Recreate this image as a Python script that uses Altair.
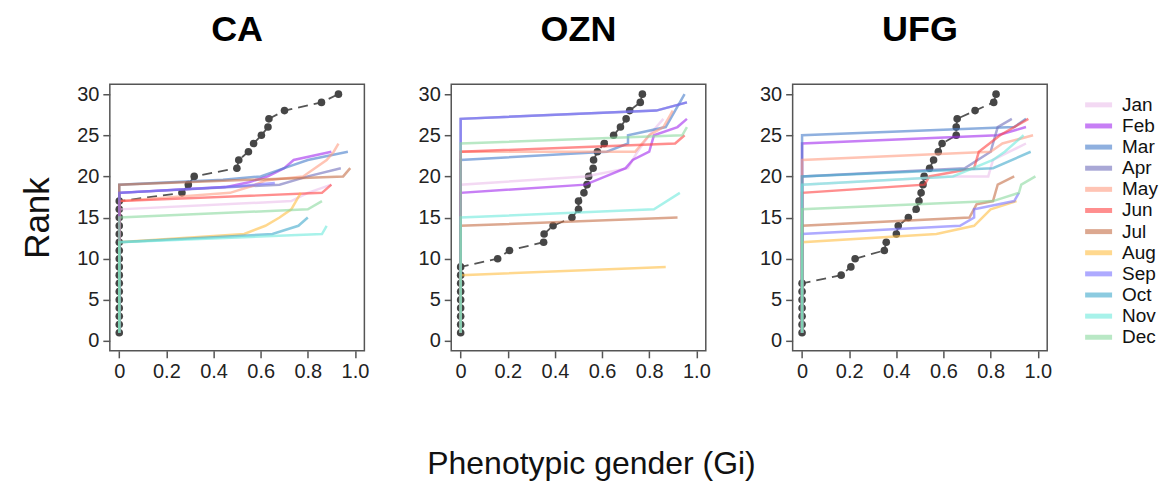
import altair as alt
import pandas as pd

MONTHS = ["Jan", "Feb", "Mar", "Apr", "May", "Jun", "Jul", "Aug", "Sep", "Oct", "Nov", "Dec"]
COLORS = ["#ebc0eb", "#a22aee", "#447bca", "#706ebb", "#ff9d82", "#ff4343",
          "#c56e46", "#ffbe43", "#7871ff", "#3fa8cb", "#6ee9dc", "#8ad99e"]
SITES = ["CA", "OZN", "UFG"]
X_TICKS = [0, 0.2, 0.4, 0.6, 0.8, 1.0]
Y_TICKS = [0, 5, 10, 15, 20, 25, 30]

RANKS = [1, 2, 3, 4, 5, 6, 7, 8, 9, 10, 11, 12, 13, 14, 15,
         16, 17, 18, 19, 20, 21, 22, 23, 24, 25, 26, 27, 28, 29, 30]

CA_DOT_GI = [0, 0, 0, 0, 0, 0, 0, 0, 0, 0, 0, 0, 0, 0, 0, 0, 0,
             0.266, 0.293, 0.318, 0.499, 0.507, 0.548, 0.570, 0.603, 0.631, 0.635, 0.701, 0.858, 0.930]
OZN_DOT_GI = [0, 0, 0, 0, 0, 0, 0, 0, 0,
              0.157, 0.207, 0.352, 0.354, 0.392, 0.472, 0.500, 0.500, 0.523, 0.536, 0.543,
              0.562, 0.564, 0.580, 0.609, 0.649, 0.678, 0.702, 0.717, 0.762, 0.771]
UFG_DOT_GI = [0, 0, 0, 0, 0, 0, 0,
              0.166, 0.207, 0.225, 0.349, 0.357, 0.400, 0.408, 0.451, 0.484, 0.496, 0.505,
              0.513, 0.518, 0.541, 0.558, 0.578, 0.594, 0.654, 0.654, 0.658, 0.734, 0.813, 0.823]

# month curves: (Gi values, rank values)
CA_LINES = {
    "Jan": ([0, 0, 0.73, 0.80, 0.90], [1, 16, 17, 18, 19]),
    "Feb": ([0, 0, 0.45, 0.55, 0.63, 0.70, 0.74, 0.90], [1, 18, 18.7, 19.3, 20, 21, 22, 23]),
    "Mar": ([0, 0, 0.44, 0.60, 0.70, 0.80, 0.97], [1, 19, 19.6, 20, 21, 22, 23]),
    "Apr": ([0, 0, 0.68, 0.80, 0.94], [1, 18, 19, 20, 21]),
    "May": ([0, 0, 0.47, 0.56, 0.62, 0.78, 0.83, 0.88, 0.91, 0.93],
            [1, 17, 18, 18.8, 19.5, 20, 21, 22, 23, 24]),
    "Jun": ([0, 0, 0.86, 0.90], [1, 17, 18, 19]),
    "Jul": ([0, 0, 0.95, 0.98], [1, 19, 20, 21]),
    "Aug": ([0, 0, 0.53, 0.62, 0.68, 0.73, 0.77], [1, 12, 13, 14, 15, 16, 18]),
    "Sep": ([0, 0, 0.50, 0.66], [1, 18, 18.8, 19.2]),
    "Oct": ([0, 0, 0.65, 0.76, 0.80], [1, 12, 13, 14, 15]),
    "Nov": ([0, 0, 0.86, 0.88], [1, 12, 13, 14]),
    "Dec": ([0, 0, 0.80, 0.86], [1, 15, 16, 17]),
}
OZN_LINES = {
    "Jan": ([0, 0, 0.53, 0.71, 0.75, 0.80, 0.86], [1, 19, 20, 21, 23, 25, 27]),
    "Feb": ([0, 0, 0.53, 0.70, 0.73, 0.80, 0.82, 0.92, 0.96], [1, 18, 19, 21, 22, 23, 25, 26, 27]),
    "Mar": ([0, 0, 0.62, 0.71, 0.71, 0.87, 0.91, 0.95], [1, 22, 23, 24, 25, 26, 28, 30]),
    "Apr": ([0, 0, 0.83, 0.96], [1, 27, 28, 29]),
    "May": ([0, 0, 0.74, 0.80, 0.86, 0.90], [1, 23, 23, 25, 26, 28]),
    "Jun": ([0, 0, 0.91, 0.95], [1, 23, 24, 25]),
    "Jul": ([0, 0, 0.92], [1, 14, 15]),
    "Aug": ([0, 0, 0.87], [1, 8, 9]),
    "Sep": ([0, 0, 0.83, 0.96], [1, 27, 28, 29]),
    "Nov": ([0, 0, 0.82, 0.93], [1, 15, 16, 18]),
    "Dec": ([0, 0, 0.94, 0.96], [1, 24, 25, 26]),
}
UFG_LINES = {
    "Jan": ([0, 0, 0.64, 0.79, 0.81, 0.88, 0.95], [1, 19, 20, 20, 22, 23, 24]),
    "Feb": ([0, 0, 0.83, 0.95], [1, 24, 25, 26]),
    "Mar": ([0, 0, 0.90, 0.95], [1, 25, 26, 27]),
    "Apr": ([0, 0, 0.69, 0.80, 0.83, 0.89], [1, 20, 21, 23, 26, 27]),
    "May": ([0, 0, 0.80, 0.85, 0.98], [1, 22, 23, 24, 25]),
    "Jun": ([0, 0, 0.52, 0.54, 0.73, 0.75, 0.84, 0.96], [1, 18, 19, 20, 21, 23, 25, 27]),
    "Jul": ([0, 0, 0.71, 0.74, 0.81, 0.83, 0.90], [1, 14, 15, 16.6, 17, 19, 20]),
    "Aug": ([0, 0, 0.57, 0.73, 0.80, 0.91], [1, 12, 13, 14, 16, 17]),
    "Sep": ([0, 0, 0.67, 0.73, 0.73, 0.90, 0.92], [1, 13, 14, 15, 16, 17, 18]),
    "Oct": ([0, 0, 0.81, 0.97], [1, 20, 21, 23]),
    "Nov": ([0, 0, 0.64, 0.81, 0.86, 0.94], [1, 19, 20, 22, 23, 25]),
    "Dec": ([0, 0, 0.81, 0.92, 0.93, 0.99], [1, 16, 17, 18, 19, 20]),
}

FONT = "Liberation Sans"
COLOR_SCALE = alt.Scale(domain=MONTHS, range=COLORS)
PANEL_W, PANEL_H = 255, 267


def line_frame(lines):
    rows = []
    for m, (gis, rks) in lines.items():
        for i, (g, r) in enumerate(zip(gis, rks)):
            rows.append({"month": m, "gi": g, "rank": r, "i": i})
    return pd.DataFrame(rows)


def legend_layers():
    leg_df = pd.DataFrame({"month": MONTHS})
    leg_y = alt.Y("month:N", scale=alt.Scale(domain=MONTHS, type="point", range=[10, 264]),
                  axis=None)
    rules = alt.Chart(leg_df).mark_rule(strokeWidth=5, opacity=0.6).encode(
        x=alt.value(PANEL_W + 38), x2=alt.value(PANEL_W + 65), y=leg_y,
        color=alt.Color("month:N", scale=COLOR_SCALE, legend=None))
    text = alt.Chart(leg_df).mark_text(align="left", baseline="middle", font=FONT,
                                       fontSize=19, color="#111").encode(
        x=alt.value(PANEL_W + 75), y=leg_y, text="month:N")
    return alt.layer(rules, text)


def panel(site, lines, dot_gi, first, middle, with_legend):
    ldf = line_frame(lines)
    ddf = pd.DataFrame({"gi": dot_gi, "rank": RANKS})
    if middle:
        x_axis = alt.Axis(values=X_TICKS,
                          labelExpr="datum.value == 0 ? '0' : format(datum.value, '.1f')",
                          titleFontSize=32, titlePadding=67, titleX=140)
    else:
        x_axis = alt.Axis(values=X_TICKS,
                          labelExpr="datum.value == 0 ? '0' : format(datum.value, '.1f')")
    x = alt.X("gi:Q",
              scale=alt.Scale(domain=[-0.04, 1.04], nice=False, zero=False),
              axis=x_axis,
              title="Phenotypic gender (Gi)" if middle else None)
    y = alt.Y("rank:Q",
              scale=alt.Scale(domain=[-1.2, 31.2], nice=False, zero=False),
              axis=alt.Axis(values=Y_TICKS, titleFontSize=35, titlePadding=21),
              title="Rank" if first else None)
    dline = alt.Chart(ddf).mark_line(color="#555", strokeDash=[10, 6], strokeWidth=1.8).encode(
        x=x, y=y, order="rank:Q")
    dots = alt.Chart(ddf).mark_circle(color="#464646", size=58, opacity=1).encode(x=x, y=y)
    mlines = alt.Chart(ldf).mark_line(strokeWidth=2.5, opacity=0.6).encode(
        x=x, y=y,
        color=alt.Color("month:N", scale=COLOR_SCALE, legend=None),
        order="i:Q")
    main = alt.layer(dline, dots, mlines)
    if with_legend:
        main = alt.layer(main, legend_layers()).resolve_scale(y="independent")
    return main.properties(
        width=PANEL_W, height=PANEL_H,
        view=alt.ViewBackground(stroke="#555", strokeWidth=1.5),
        title=alt.TitleParams(site, fontSize=36, fontWeight="bold", font=FONT, offset=35))


chart = alt.hconcat(
    panel(SITES[0], CA_LINES, CA_DOT_GI, True, False, False),
    panel(SITES[1], OZN_LINES, OZN_DOT_GI, False, True, False),
    panel(SITES[2], UFG_LINES, UFG_DOT_GI, False, False, True),
    spacing=87,
    bounds="flush",
    padding={"left": 12, "top": 3, "right": 5, "bottom": 0},
).configure_axis(
    domain=False, grid=False, tickColor="#555", tickSize=7, tickWidth=1.5,
    labelFont=FONT, labelFontSize=20, labelColor="#222", labelPadding=4,
    titleFont=FONT, titleFontWeight="normal", titleColor="#111"
).configure_title(anchor="middle", color="#000")

chart.save("out.html", embed_options={"renderer": "svg", "actions": False})
